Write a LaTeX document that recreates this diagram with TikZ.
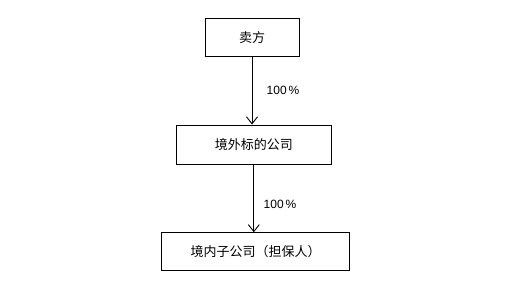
\documentclass[tikz,border=0pt]{standalone}
\usepackage{fontspec}
\setmainfont{Liberation Sans}
\newfontfamily\cjk{Noto Sans CJK SC}
\usetikzlibrary{arrows.meta}
\begin{document}
\begin{tikzpicture}[x=1pt, y=-1pt, >={Straight Barb[length=7pt,width=11pt]},
  box/.style={draw, line width=0.9pt, inner sep=0pt, font=\cjk\fontsize{13}{15}\selectfont},
  pct/.style={font=\fontsize{12}{14}\selectfont}]
  % 画面 506x306 (1px = 1pt)
  \useasboundingbox (0,0) rectangle (506,306);
  \node[box, minimum width=94pt, minimum height=38.5pt] (seller) at (252,37.5) {卖方};
  \node[box, minimum width=155.5pt, minimum height=39.3pt] (target) at (253.8,144.6) {境外标的公司};
  \node[box, minimum width=187.6pt, minimum height=37.3pt] (sub) at (255.5,251.4) {境内子公司（担保人）};
  \draw[->, line width=0.9pt] (seller.south) -- (seller.south |- target.north);
  \draw[->, line width=0.9pt] (target.south) -- (target.south |- sub.north);
  \node[pct] (p1) at (283,90) {100\,\%};
  \node[pct] (p2) at (280,204) {100\,\%};
\end{tikzpicture}
\end{document}
